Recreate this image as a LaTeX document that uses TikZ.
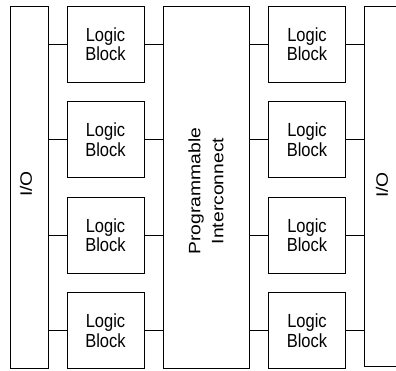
\documentclass[tikz,border=0pt]{standalone}
\usepackage{graphicx}
\usepackage{fontspec}
\setmainfont{Liberation Sans}
\newcommand{\vst}[1]{\scalebox{1}[1.15]{#1}}
\newcommand{\hst}[1]{\scalebox{1.17}[1]{#1}}
\begin{document}
\begin{tikzpicture}[x=1pt,y=-1pt,
  box/.style={draw, line width=0.8pt, inner sep=0pt},
  txt/.style={font=\fontsize{16.5}{19.5}\selectfont, align=center, inner sep=0pt},
  lb/.style={box, txt, minimum width=77pt, minimum height=76pt},
  wire/.style={line width=0.9pt}]
\clip (0,0) rectangle (396,370);
\node[box, minimum width=38pt, minimum height=362pt] (io1) at (29,187) {};
\node[txt, rotate=90] (t1) at (26,184) {\hst{I/O}};
\node[box, minimum width=86pt, minimum height=362pt] (pi) at (206,187) {};
\node[txt, rotate=90, font=\fontsize{16.5}{23}\selectfont] (t2) at (206,191) {\hst{Programmable}\\\hst{Interconnect}};
\node[box, minimum width=50pt, minimum height=360pt] (io2) at (389,186) {};
\node[txt, rotate=90] (t3) at (382,185) {\hst{I/O}};
\foreach \i/\y in {1/44,2/139.5,3/235,4/330.5}{
  \node[lb] (a\i) at (105.5,\y) {\vst{Logic}\\\vst{Block}};
  \node[lb] (b\i) at (307,\y) {\vst{Logic}\\\vst{Block}};
  \draw[wire] (io1.east |- a\i.west) -- (a\i.west);
  \draw[wire] (a\i.east) -- (pi.west |- a\i.east);
  \draw[wire] (pi.east |- b\i.west) -- (b\i.west);
  \draw[wire] (b\i.east) -- (io2.west |- b\i.east);
}
\end{tikzpicture}
\end{document}
